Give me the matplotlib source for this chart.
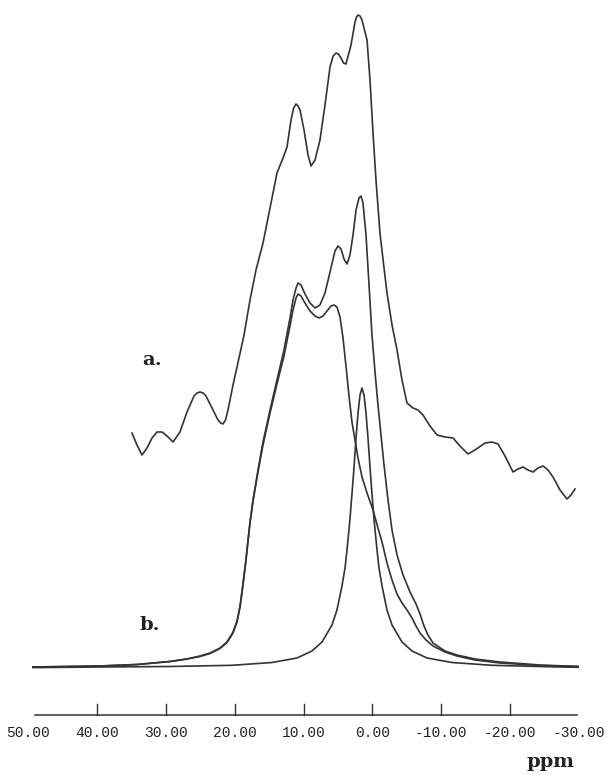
import matplotlib
matplotlib.use("Agg")
import matplotlib.pyplot as plt

# spectrum a (experimental), ppm vs intensity (a.u.)
a_ppm = [34.94, 34.22, 33.49, 32.76, 32.03, 31.31, 30.58, 29.85, 28.98, 27.97,
         26.95, 25.93, 25.50, 25.06, 24.60, 24.19, 23.31, 22.44, 22.05, 21.72,
         21.35, 20.99, 20.26, 19.68, 18.66, 17.79, 16.92, 15.90, 14.88, 13.87,
         12.99, 12.41, 11.83, 11.45, 11.10, 10.80, 10.52, 9.94, 9.36, 8.92,
         8.34, 7.62, 6.89, 6.16, 5.70, 5.29, 4.95, 4.56, 4.20, 3.84,
         3.11, 2.53, 2.30, 2.09, 1.80, 1.51, 0.78, 0.35, -0.09, -0.52,
         -1.10, -1.69, -2.12, -2.85, -3.58, -4.30, -5.03, -5.90, -6.63, -7.35,
         -8.37, -9.39, -10.55, -11.72, -12.73, -13.90, -14.91, -16.37, -17.38, -18.26,
         -19.27, -20.44, -21.16, -21.89, -22.62, -23.34, -24.07, -24.80, -25.52, -26.25,
         -27.27, -28.29, -28.87, -29.45]
a_int = [235, 223, 213, 220, 230, 236, 236, 232, 226, 236,
         256, 272, 275, 276, 275, 272, 260, 248, 245, 244,
         248, 258, 283, 301, 333, 368, 398, 425, 460, 495,
         510, 521, 548, 560, 564, 562, 558, 538, 513, 502,
         508, 528, 563, 601, 612, 615, 614, 610, 605, 604,
         623, 646, 651, 653, 652, 648, 628, 588, 535, 488,
         435, 400, 375, 343, 318, 288, 265, 260, 258, 253,
         242, 233, 231, 230, 222, 214, 218, 225, 226, 224,
         212, 196, 199, 201, 198, 196, 200, 202, 198, 191,
         178, 169, 173, 179]

# spectrum b: simulated sum
sum_ppm = [49.33, 39.59, 34.22, 29.42, 26.95, 25.06, 23.60, 22.15, 21.13, 20.26,
           19.68, 19.24, 18.81, 18.37, 18.08, 17.79, 17.35, 16.63, 15.90, 14.88,
           13.87, 12.85, 11.98, 11.54, 11.10, 10.81, 10.38, 9.80, 9.07, 8.34,
           7.62, 6.89, 6.16, 5.44, 5.00, 4.56, 4.13, 3.69, 3.26, 2.82,
           2.38, 1.95, 1.66, 1.37, 0.93, 0.49, 0.06, -0.38, -0.81, -1.25,
           -1.69, -2.27, -2.85, -3.58, -4.45, -5.47, -6.34, -6.92, -7.50, -8.08,
           -8.81, -10.55, -12.30, -14.91, -18.55, -24.36, -29.88]
sum_int = [1, 2, 3.5, 6.5, 9, 12, 15, 20, 26, 36,
           47, 62, 84, 109, 128, 146, 168, 198, 226, 258,
           288, 318, 350, 368, 380, 385, 383, 374, 365, 360,
           363, 375, 396, 417, 422, 419, 409, 404, 413, 433,
           458, 470, 472, 465, 433, 383, 333, 296, 263, 233,
           203, 168, 138, 113, 93, 76, 64, 54, 42, 33,
           25, 17, 13, 9, 6, 3, 1.5]

# broad component
br_ppm = [49.33, 39.59, 34.22, 29.42, 26.95, 25.06, 23.60, 22.15, 21.13, 20.26,
          19.68, 19.24, 18.81, 18.37, 18.08, 17.79, 17.35, 16.63, 15.90, 14.88,
          13.87, 12.85, 11.98, 11.54, 11.10, 10.81, 10.38, 9.80, 9.07, 8.34,
          7.76, 7.18, 6.60, 6.02, 5.58, 5.15, 4.71, 4.27, 3.84, 3.40,
          2.97, 2.53, 2.09, 1.51, 0.78, -0.09, -0.81, -1.40, -2.12, -2.85,
          -3.58, -4.30, -5.03, -5.76, -6.34, -6.92, -7.79, -8.81, -10.55, -12.30,
          -14.91, -18.55, -24.36, -29.88]
br_int = [1, 2, 3.5, 6.5, 9, 11.5, 14.5, 19.5, 25.5, 35,
          46, 61, 83, 108, 127, 145, 167, 196, 223, 255,
          284, 312, 342, 358, 370, 374, 372, 365, 357, 352,
          350, 352, 357, 362, 363, 361, 351, 330, 302, 272,
          246, 228, 210, 191, 175, 158, 140, 126, 105, 88,
          74, 65, 58, 50, 42, 35, 28, 22, 16, 12,
          8, 5, 2.5, 1.5]

# narrow component
nr_ppm = [49.33, 39.59, 29.42, 20.41, 14.59, 10.96, 8.78, 7.33, 5.87, 5.15,
          4.42, 3.98, 3.69, 3.26, 2.97, 2.67, 2.38, 2.09, 1.80, 1.51,
          1.22, 0.93, 0.64, 0.35, 0.06, -0.23, -0.67, -0.96, -1.40, -2.12,
          -2.85, -4.30, -5.76, -7.94, -11.57, -17.38, -27.27, -29.88]
nr_int = [0.4, 1, 1.5, 2.7, 5.5, 10, 17, 26, 43, 58,
          82, 100, 118, 149, 174, 201, 230, 255, 273, 280,
          273, 255, 230, 201, 174, 149, 118, 100, 82, 58,
          43, 26, 17, 10, 5.5, 2.7, 1, 0.7]

tick_vals = [40, 30, 20, 10, 0, -10, -20]
label_vals = [50, 40, 30, 20, 10, 0, -10, -20, -30]

fig = plt.figure(figsize=(6.07, 7.75), dpi=100)
ax = fig.add_axes([0, 0, 1, 1])
ax.set_xlim(54.13, -34.10)
ax.set_ylim(-107, 668)
ax.axis('off')

col = '#333333'
for xs, ys in [(a_ppm, a_int), (sum_ppm, sum_int), (br_ppm, br_int), (nr_ppm, nr_int)]:
    ax.plot(xs, ys, color=col, lw=1.2, solid_joinstyle='round')

# ppm scale drawn under the spectra
y_axis = -47
ax.plot([49.0, -29.8], [y_axis, y_axis], color=col, lw=1.1)
for t in tick_vals:
    ax.plot([t, t], [y_axis, y_axis + 11], color=col, lw=1.0)
for v in label_vals:
    ax.text(v, y_axis - 18, '%.2f' % v, ha='center', va='center',
            family='Liberation Mono', fontsize=10.5, color='#222222')

ax.text(-25.9, -94, 'ppm', ha='center', va='center', family='DejaVu Serif',
        fontweight='bold', fontsize=14, color='#222222')
ax.text(32.0, 308, 'a.', ha='center', va='center', family='DejaVu Serif',
        fontweight='bold', fontsize=14, color='#222222')
ax.text(32.3, 43, 'b.', ha='center', va='center', family='DejaVu Serif',
        fontweight='bold', fontsize=14, color='#222222')

fig.savefig('out.png', dpi=100)
